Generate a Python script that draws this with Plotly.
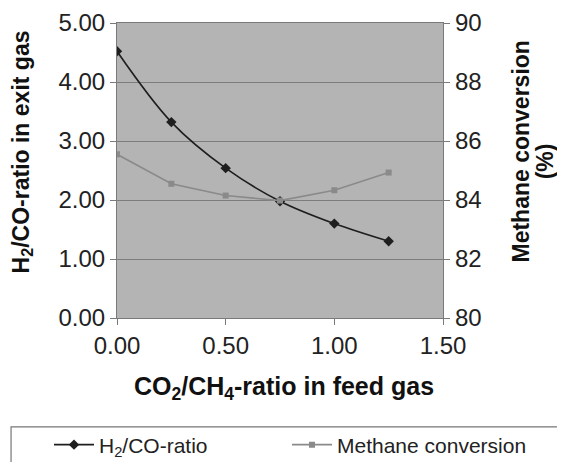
import plotly.graph_objects as go

x_ratio = [0.0, 0.25, 0.5, 0.75, 1.0, 1.25]
h2_co = [4.52, 3.32, 2.54, 1.98, 1.60, 1.30]
methane_conv = [85.55, 84.55, 84.15, 83.98, 84.33, 84.93]

x_ticks = [0.0, 0.5, 1.0, 1.5]
x_labels = ["0.00", "0.50", "1.00", "1.50"]
y_ticks = [0, 1, 2, 3, 4, 5]
y_labels = ["0.00", "1.00", "2.00", "3.00", "4.00", "5.00"]
y2_ticks = [80, 82, 84, 86, 88, 90]

FONT = "Liberation Sans, Arial, sans-serif"
W, H = 565, 462

fig = go.Figure()
fig.add_trace(go.Scatter(
    x=x_ratio, y=h2_co, name="H<sub>2</sub>/CO-ratio", legend="legend",
    mode="lines+markers", line=dict(color="#1e1e1e", width=1.6, shape="spline"),
    marker=dict(symbol="diamond", size=8, color="#1e1e1e"),
))
fig.add_trace(go.Scatter(
    x=x_ratio, y=methane_conv, name="Methane conversion", yaxis="y2", legend="legend2",
    mode="lines+markers", line=dict(color="#8a8a8a", width=1.6),
    marker=dict(symbol="square", size=6, color="#8a8a8a"),
))

axis_common = dict(showline=True, linecolor="#7a7a7a", linewidth=1.2,
                   ticks="outside", ticklen=6, tickcolor="#7a7a7a",
                   tickfont=dict(family=FONT, size=24, color="#222"), zeroline=False,
                   automargin=False)

legend_common = dict(orientation="h", xref="container", yref="container",
                     xanchor="left", y=1 - 437 / H, yanchor="middle",
                     font=dict(family=FONT, size=21, color="#222"),
                     bgcolor="rgba(0,0,0,0)", itemwidth=40)

fig.update_layout(
    width=W, height=H,
    margin=dict(l=109, r=130, t=15, b=152),
    paper_bgcolor="white", plot_bgcolor="#b4b4b4",
    showlegend=True,
    xaxis=dict(range=[0, 1.5], tickvals=x_ticks, ticktext=x_labels, showgrid=False,
               mirror=True, **axis_common),
    yaxis=dict(range=[0, 5], tickvals=y_ticks, ticktext=y_labels,
               showgrid=True, gridcolor="#7d7d7d", gridwidth=1, **axis_common),
    yaxis2=dict(range=[80, 90], tickvals=y2_ticks, overlaying="y", side="right",
                showgrid=False, **axis_common),
    legend=dict(x=41 / W, **legend_common),
    legend2=dict(x=279 / W, **legend_common),
    annotations=[
        dict(text="CO<sub>2</sub>/CH<sub>4</sub>-ratio in feed gas", xref="paper", yref="paper",
             x=0.512, y=-0.237, xanchor="center", yanchor="middle", showarrow=False,
             font=dict(family=FONT, size=25, color="#111"), ),
        dict(text="H<sub>2</sub>/CO-ratio in exit gas", xref="paper", yref="paper",
             x=-0.29, y=0.563, xanchor="center", yanchor="middle", showarrow=False,
             textangle=-90, font=dict(family=FONT, size=23, color="#111")),
        dict(text="Methane conversion", xref="paper", yref="paper",
             x=1.238, y=0.563, xanchor="center", yanchor="middle", showarrow=False,
             textangle=-90, font=dict(family=FONT, size=23, color="#111")),
        dict(text="(%)", xref="paper", yref="paper",
             x=1.312, y=0.53, xanchor="center", yanchor="middle", showarrow=False,
             textangle=-90, font=dict(family=FONT, size=23, color="#111")),
    ],
    shapes=[dict(type="rect", xref="paper", yref="paper",
                 x0=-0.325, x1=1.368, y0=-0.369, y1=-0.6,
                 line=dict(color="#777", width=1.2), fillcolor="rgba(0,0,0,0)")],
)
for a in fig.layout.annotations:
    a.text = "<b>" + a.text + "</b>"

fig.write_html("out.html")
